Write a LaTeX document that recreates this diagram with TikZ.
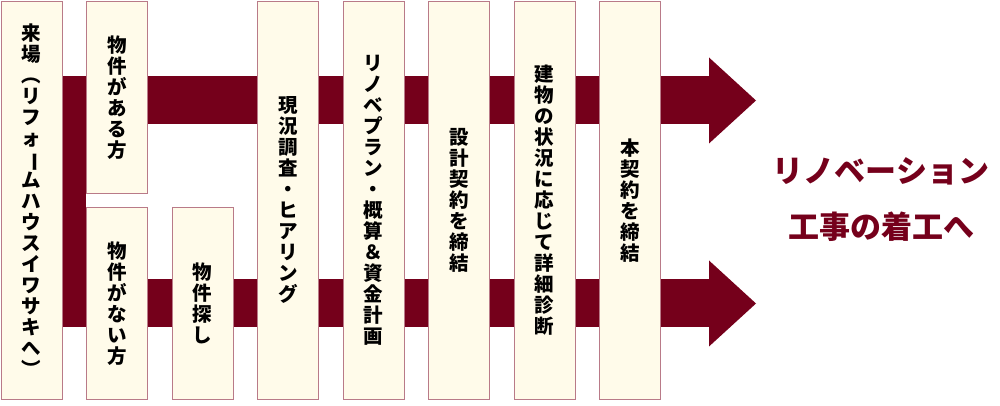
\documentclass[tikz,border=0pt]{standalone}
\usepackage{fontspec}
\usepackage{graphicx}
\setmainfont{Noto Sans CJK JP}
\usetikzlibrary{arrows.meta}
\usetikzlibrary{positioning}
\usetikzlibrary{backgrounds}
\definecolor{maroon}{HTML}{75001B}
\definecolor{cream}{HTML}{FFFBEA}
\definecolor{rose}{HTML}{B97A88}
\newcommand{\tatebar}{\rotatebox[origin=c]{-90}{ー}}

\begin{document}
\begin{tikzpicture}[x=1pt,y=1pt,
  node distance=23.3pt,
  stage/.style={draw=rose,fill=cream,line width=1.2pt,minimum width=61pt,inner sep=0pt,align=center,
    font=\bfseries\fontsize{19.5pt}{21pt}\selectfont},
  full/.style={stage,minimum height=398.5pt},
  half/.style={stage,minimum height=192.5pt},
  band/.style={maroon,line width=48pt,-{Triangle[length=47pt,width=86pt,line width=0pt]}}]

  \useasboundingbox (0,0) rectangle (1000,406);

  % steps, left to right
  \node[full,anchor=north west] (A) at (0.6,405.4)
    {来\\場\\︵\\リ\\フ\\ォ\\\tatebar\\ム\\ハ\\ウ\\ス\\イ\\ワ\\サ\\キ\\へ\\︶};
  \node[half,right=of A.north east,anchor=north west] (B1) {物\\件\\が\\あ\\る\\方};
  \node[half,right=of A.south east,anchor=south west] (B2) {物\\件\\が\\な\\い\\方};
  \node[half,right=of B2] (C) {物\\件\\探\\し};
  \node[full,right=of C.south east,anchor=south west] (D) {現\\況\\調\\査\\・\\ヒ\\ア\\リ\\ン\\グ};
  \node[full,right=of D] (E) {リ\\ノ\\ベ\\プ\\ラ\\ン\\・\\概\\算\\＆\\資\\金\\計\\画};
  \node[full,right=of E] (F) {設\\計\\契\\約\\を\\締\\結};
  \node[full,right=of F] (G) {建\\物\\の\\状\\況\\に\\応\\じ\\て\\詳\\細\\診\\断};
  \node[full,right=of G] (H) {本\\契\\約\\を\\締\\結};

  \node[text=maroon,align=center,font=\bfseries\fontsize{31pt}{56pt}\selectfont] (Z) at (881,206)
    {リノベーション\\工事の着工へ};

  \coordinate (upTip) at (756,305.5);
  \coordinate (lowTip) at (756,102.5);

  \begin{scope}[on background layer]
    \draw[band] (A.east |- upTip) -- (upTip);
    \draw[band] (A.east |- lowTip) -- (lowTip);
    \fill[maroon] ([yshift=24pt]A.east |- upTip) rectangle ([yshift=-24pt]B2.west |- lowTip);
  \end{scope}
\end{tikzpicture}
\end{document}
